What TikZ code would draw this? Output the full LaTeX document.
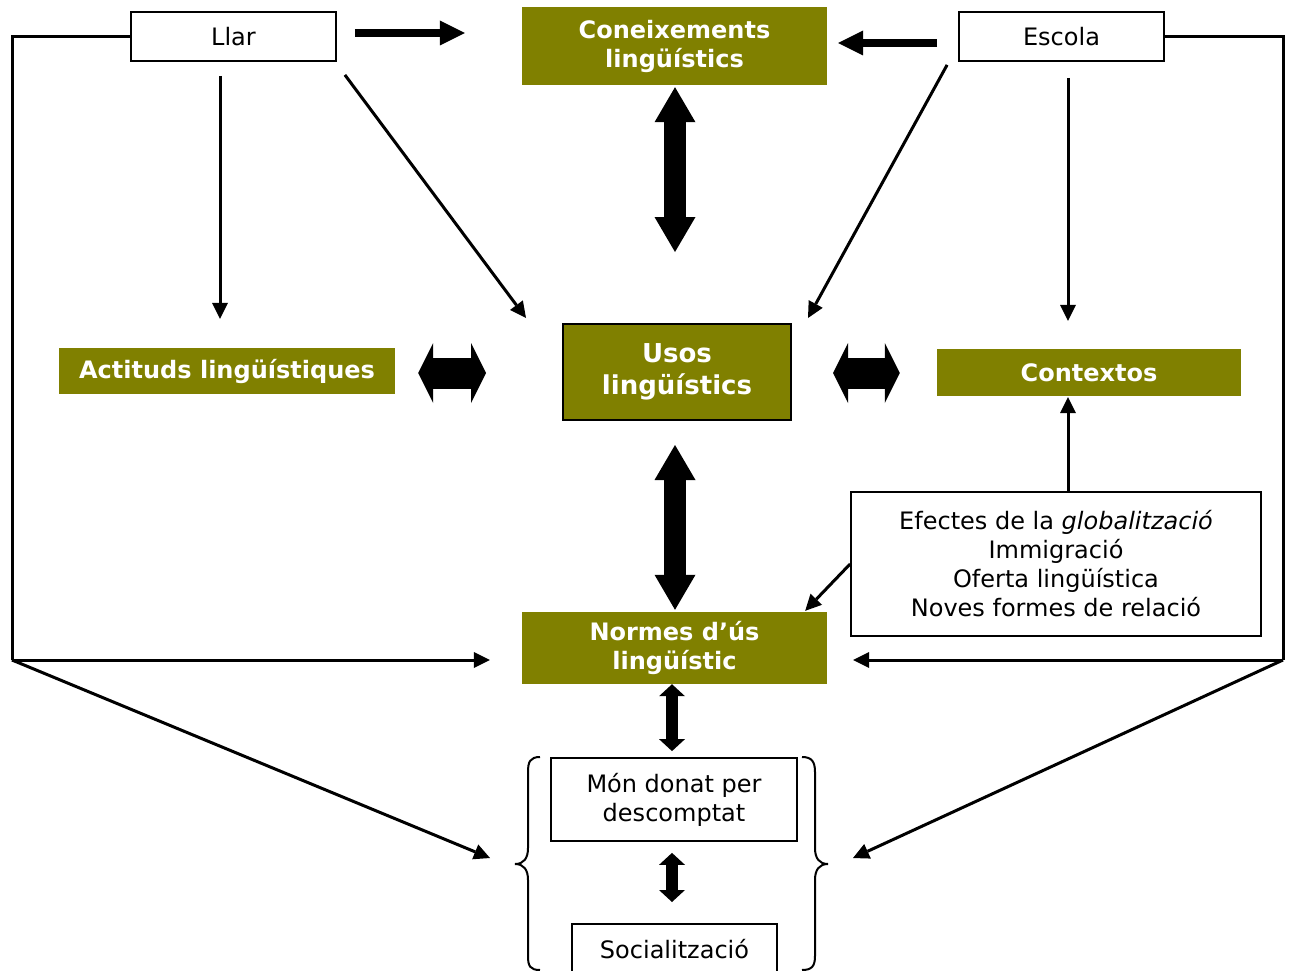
\documentclass[tikz,border=0pt]{standalone}
\usepackage{fontspec}
\setmainfont{DejaVu Sans}
\usetikzlibrary{arrows.meta,calc}
\definecolor{oliv}{HTML}{808000}
\tikzset{
  txt/.style={font=\fontsize{24}{29}\selectfont, align=center, inner sep=0pt},
  wbox/.style={txt, draw=black, line width=1.8pt, fill=white},
  obox/.style={txt, fill=oliv, text=white, font=\fontsize{24}{29}\selectfont\bfseries},
  thin arrow/.style={line width=3pt, -{Triangle[width=16pt,length=16pt,line width=0pt]}},
  frame line/.style={line width=3pt},
  fatv/.style={line width=22pt, {Triangle[width=41pt,length=35pt,line width=0pt]}-{Triangle[width=41pt,length=35pt,line width=0pt]}},
  fath/.style={line width=31pt, {Triangle[width=60pt,length=15pt,line width=0pt]}-{Triangle[width=60pt,length=15pt,line width=0pt]}},
  fats/.style={line width=12pt, {Triangle[width=26pt,length=12pt,line width=0pt]}-{Triangle[width=26pt,length=12pt,line width=0pt]}},
  fatr/.style={line width=8pt, -{Triangle[width=25pt,length=25pt,line width=0pt]}},
  bracestyle/.style={line width=2pt}
}
\begin{document}
\begin{tikzpicture}[x=1pt,y=-1pt]
\fill[white] (0,0) rectangle (1290,971);
\useasboundingbox (0,0) rectangle (1290,971);

% nodes
\node[wbox, minimum width=205pt, minimum height=49pt] (llar) at (233.5,36.5) {Llar};
\node[wbox, minimum width=205pt, minimum height=49pt] (escola) at (1061.5,36.5) {Escola};
\node[obox, minimum width=305pt, minimum height=78pt] (con) at (674.5,46) {Coneixements\\lingüístics};
\node[obox, draw=black, line width=2pt, minimum width=228pt, minimum height=96pt,
      font=\fontsize{26}{32}\selectfont\bfseries] (usos) at (677,372) {Usos\\lingüístics};
\node[obox, minimum width=336pt, minimum height=46pt] (act) at (227,371) {Actituds lingüístiques};
\node[obox, minimum width=304pt, minimum height=47pt] (ctx) at (1089,372.5) {Contextos};
\node[obox, minimum width=305pt, minimum height=72pt] (normes) at (674.5,648) {Normes d’ús\\lingüístic};
\node[wbox, minimum width=410pt, minimum height=144pt] (ef) at (1056,564)
  {Efectes de la \textit{globalització}\\Immigració\\Oferta lingüística\\Noves formes de relació};
\node[wbox, minimum width=246pt, minimum height=83pt] (mon) at (674,799.5) {Món donat per\\descomptat};
\node[wbox, minimum width=205pt, minimum height=50pt, anchor=north] (soc) at (674.5,923) {Socialització};

% braces
\draw[bracestyle] (540,757) .. controls (530,757) and (528,762) .. (528,772)
  -- (528,848) .. controls (528,858) and (524,864) .. (515,864)
  .. controls (524,864) and (528,870) .. (528,880)
  -- (528,956) .. controls (528,966) and (530,970) .. (540,970);
\draw[bracestyle] (802,757) .. controls (812,757) and (815,762) .. (815,772)
  -- (815,848) .. controls (815,858) and (819,864) .. (828,864)
  .. controls (819,864) and (815,870) .. (815,880)
  -- (815,956) .. controls (815,966) and (812,970) .. (802,970);
\coordinate (lbt) at (515,864);
\coordinate (rbt) at (828,864);

% frame lines
\coordinate (LC) at (12,660);
\coordinate (RC) at (1283,660);
\draw[frame line, line join=miter] (llar.west) -| (LC);
\draw[thin arrow] (LC) -- ($(normes.west)+(-32,12)$);
\draw[thin arrow] (LC) -- ($(lbt)+(-25,-6)$);
\draw[frame line, line join=miter] (escola.east) -| (RC);
\draw[thin arrow] (RC) -- ($(normes.east)+(26,12)$);
\draw[thin arrow] (RC) -- ($(rbt)+(25,-6)$);

% thin arrows
\draw[thin arrow] ($(llar.south)+(-13.5,14)$) -- ($(act.north)+(-7,-29)$);
\draw[thin arrow] ($(llar.south east)+(8,13)$) -- ($(usos.north west)+(-36,-5)$);
\draw[thin arrow] ($(escola.south west)+(-11,3)$) -- ($(usos.north east)+(16,-5)$);
\draw[thin arrow] ($(escola.south)+(6.5,16)$) -- ($(ctx.north)+(-21,-28)$);
\draw[thin arrow] ($(ef.north)+(12,0)$) -- ($(ctx.south)+(-21,1)$);
\draw[thin arrow] (ef.west) -- ($(normes.north east)+(-22,-1)$);

% thick arrows
\draw[fatr] ($(llar.east)+(18,-3.5)$) -- ($(con.west)+(-57,-13)$);
\draw[fatr] ($(escola.west)+(-21,6.5)$) -- ($(con.east)+(11,-3)$);

% fat double arrows
\draw[fatv] ($(con.south)+(0.5,2)$) -- ($(usos.north)+(-2,-71)$);
\draw[fatv] ($(usos.south)+(-2,24)$) -- ($(normes.north)+(0.5,-2)$);
\draw[fath] ($(act.east)+(23,2)$) -- ($(usos.west)+(-76,1)$);
\draw[fath] ($(usos.east)+(41,1)$) -- ($(ctx.west)+(-37,0.5)$);
\draw[fats] ($(normes.south)+(-2.5,0)$) -- ($(mon.north)+(-2,-6)$);
\draw[fats] ($(mon.south)+(-2,11)$) -- ($(soc.north)+(-2.5,-21)$);
\end{tikzpicture}
\end{document}
